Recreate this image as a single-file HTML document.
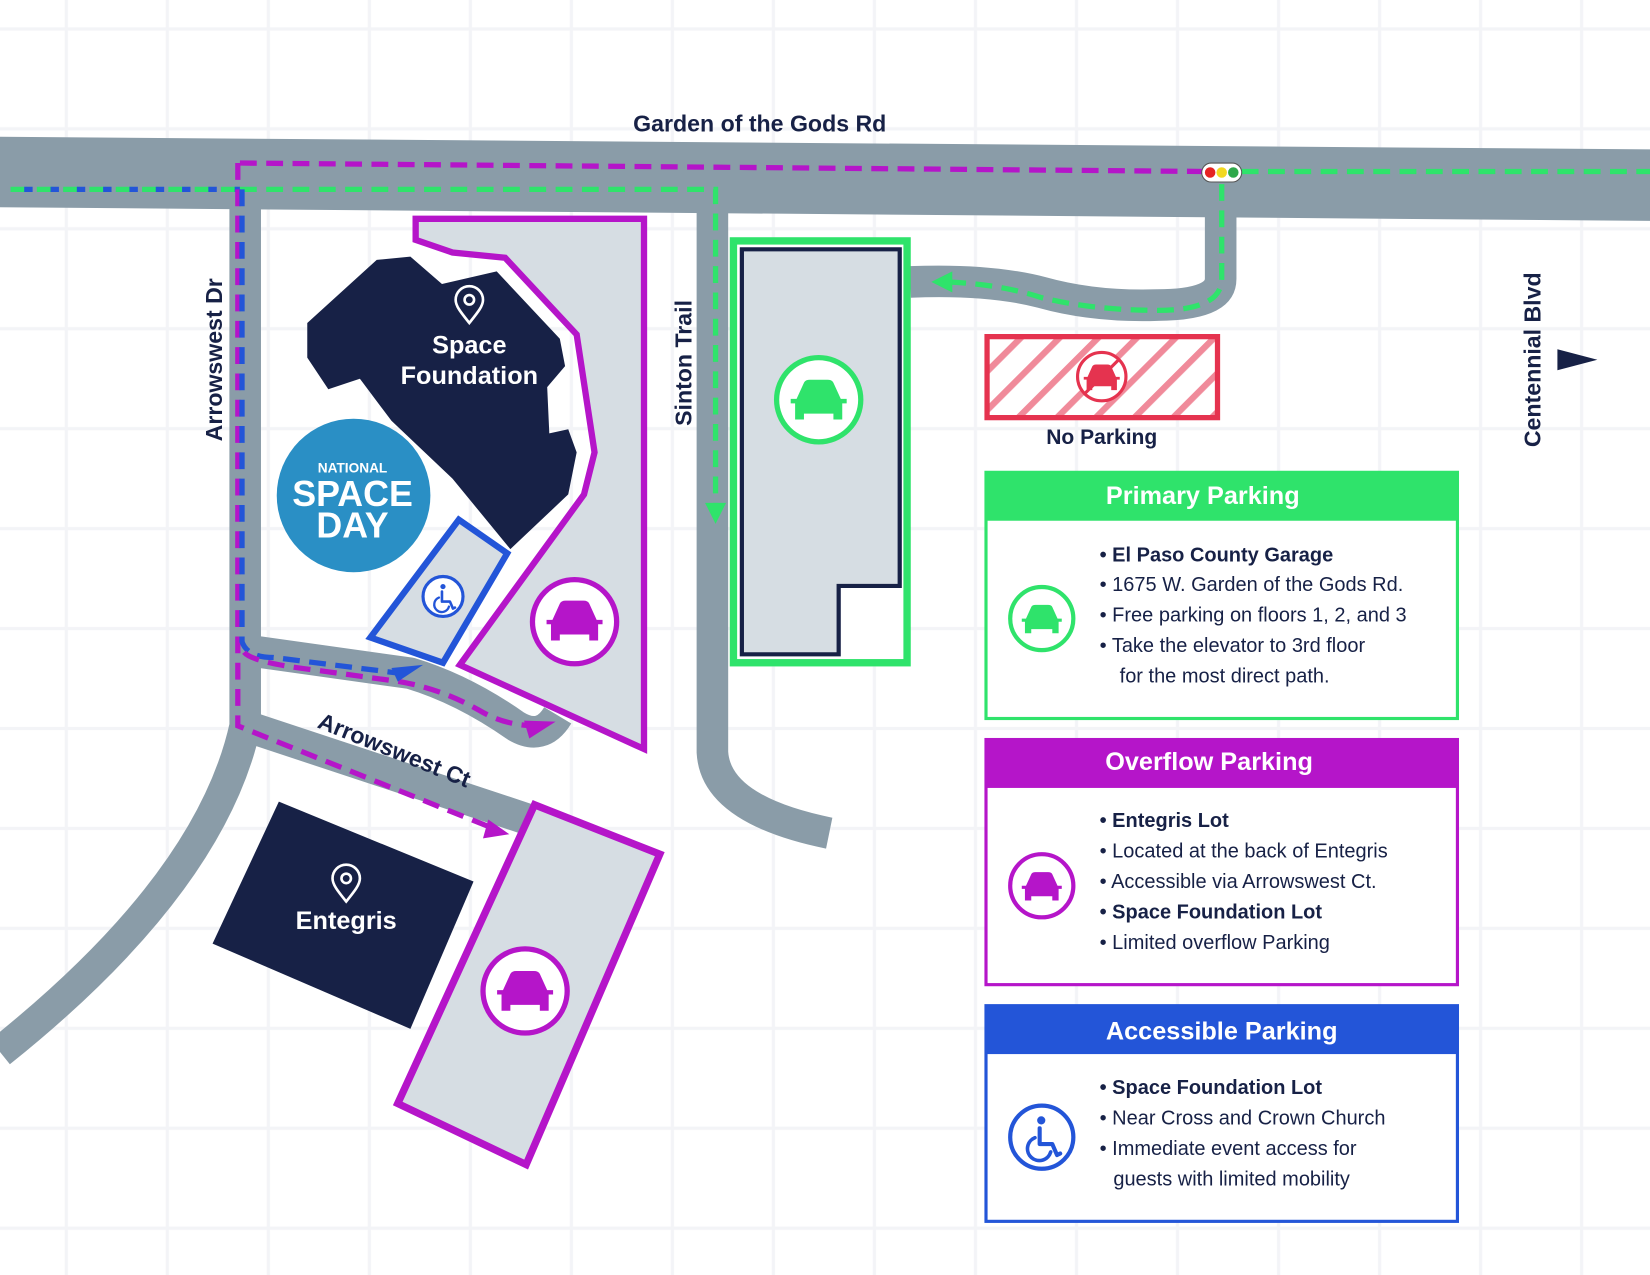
<!DOCTYPE html>
<html><head><meta charset="utf-8"><style>
html,body{margin:0;padding:0;background:#fff;}
svg{display:block;}
text{font-family:"Liberation Sans",sans-serif;}
</style></head><body>
<svg width="1650" height="1275" viewBox="0 0 1568 1212" preserveAspectRatio="none" xmlns="http://www.w3.org/2000/svg">
<defs>
<pattern id="grid" x="15" y="-20" width="96" height="95" patternUnits="userSpaceOnUse">
<path d="M48 0V95M0 47.5H96" stroke="#f3f4f7" stroke-width="3" fill="none"/>
</pattern>
<pattern id="hatch" width="26" height="26" patternUnits="userSpaceOnUse" patternTransform="rotate(-45)">
<rect width="26" height="26" fill="#fff"/><rect width="26" height="6" fill="#f08a9a"/>
</pattern>
<g id="car">
<path d="M-15 -2 L-10 -13 Q-9 -15 -6 -15 H6 Q9 -15 10 -13 L15 -2 H19 V1 H16 V12 H10 V8 H-10 V12 H-16 V1 H-19 V-2 Z"/>
</g>
<g id="wc" fill="none" stroke-linecap="round" stroke-linejoin="round">
<circle cx="1" cy="-12" r="2.6" stroke="none" fill="currentColor"/>
<path d="M0 -7 V3 H8 L11 10 L13 9" stroke-width="2.6"/>
<path d="M-3 -1 A7.5 7.5 0 1 0 7 8" stroke-width="2.3"/>
</g>
</defs>
<rect width="1568" height="1212" fill="#fff"/>
<rect width="1568" height="1212" fill="url(#grid)"/>

<!-- roads -->
<polygon points="0,130 1568,142 1568,210 0,197" fill="#8a9ca8"/>
<g fill="none" stroke="#8a9ca8" stroke-width="30" stroke-linejoin="round">
<path d="M233 195 V690 Q200 840 0 1000"/>
<path d="M233 690 L505 780"/>
<path d="M233 618 L390 640 Q440 655 490 690 Q515 705 530 680"/>
<path d="M677 200 V715 Q680 770 788 792"/>
<path d="M1160 200 V265 Q1160 290 1100 290 Q1040 292 990 278 Q940 265 865 268"/>
</g>

<!-- space foundation lot -->
<polygon points="395,208 612,208 612,712 437,632 555,470 565,430 548,318 480,245 430,240 395,228" fill="#d6dde3" stroke="#b515c9" stroke-width="6"/>
<polygon points="292,307 358,247 390,244 420,270 472,258 532,322 537,348 520,368 522,412 540,408 548,430 540,470 485,522 430,455 372,400 342,360 312,370 292,340" fill="#172146"/>
<polygon points="352,606 436,494 482,526 421,630" fill="#d6dde3" stroke="#2355d8" stroke-width="6"/>
<circle cx="336" cy="471" r="73" fill="#2a8fc5"/>
<text x="335" y="449" font-size="13" font-weight="bold" fill="#fff" text-anchor="middle">NATIONAL</text>
<text x="335" y="481" font-size="34" font-weight="bold" fill="#fff" text-anchor="middle">SPACE</text>
<text x="335" y="511" font-size="34" font-weight="bold" fill="#fff" text-anchor="middle">DAY</text>
<path d="M446 307 C438 297 433 291 433 285 A13 13 0 0 1 459 285 C459 291 454 297 446 307Z" fill="none" stroke="#fff" stroke-width="2.5"/>
<circle cx="446" cy="285" r="4.5" fill="none" stroke="#fff" stroke-width="2.5"/>
<text x="446" y="336" font-size="24" font-weight="bold" fill="#fff" text-anchor="middle">Space</text>
<text x="446" y="365" font-size="24" font-weight="bold" fill="#fff" text-anchor="middle">Foundation</text>
<circle cx="421" cy="567" r="19" fill="#fff" stroke="#2355d8" stroke-width="3"/>
<use href="#wc" color="#2355d8" stroke="#2355d8" transform="translate(420 569) scale(0.95)"/>
<circle cx="546" cy="591" r="40" fill="#fff" stroke="#b515c9" stroke-width="5"/>
<use href="#car" fill="#b515c9" transform="translate(546 592) scale(1.4)"/>

<!-- garage -->
<rect x="697" y="229" width="165" height="401" fill="#fff" stroke="#2fe36b" stroke-width="7"/>
<polygon points="705,237 855,237 855,557 797,557 797,622 705,622" fill="#d6dde3" stroke="#172146" stroke-width="4"/>
<circle cx="778" cy="380" r="40" fill="#fff" stroke="#2fe36b" stroke-width="5"/>
<use href="#car" fill="#2fe36b" transform="translate(778 382) scale(1.4)"/>

<!-- entegris -->
<polygon points="265,762 450,838 390,978 202,897" fill="#172146"/>
<path d="M329 857 C321 847 316 841 316 835 A13 13 0 0 1 342 835 C342 841 337 847 329 857Z" fill="none" stroke="#fff" stroke-width="2.5"/>
<circle cx="329" cy="835" r="4.5" fill="none" stroke="#fff" stroke-width="2.5"/>
<text x="329" y="883" font-size="24" font-weight="bold" fill="#fff" text-anchor="middle">Entegris</text>
<polygon points="508,765 627,812 500,1107 378,1049" fill="#d6dde3" stroke="#b515c9" stroke-width="7"/>
<circle cx="499" cy="942" r="40" fill="#fff" stroke="#b515c9" stroke-width="5"/>
<use href="#car" fill="#b515c9" transform="translate(499 944) scale(1.4)"/>

<!-- no parking -->
<rect x="938" y="320" width="219" height="77" fill="url(#hatch)" stroke="#e5334f" stroke-width="5"/>
<circle cx="1047" cy="358" r="23" fill="#fff" stroke="#e5334f" stroke-width="3"/>
<use href="#car" fill="#e5334f" transform="translate(1047 360) scale(0.9)"/>
<line x1="1030" y1="375" x2="1064" y2="341" stroke="#e5334f" stroke-width="3"/>
<text x="1047" y="422" font-size="20" font-weight="bold" fill="#172146" text-anchor="middle">No Parking</text>

<!-- dashed routes -->
<g fill="none" stroke-width="5" stroke-dasharray="16 9">
<path d="M10 180 H228" stroke="#2fe36b"/>
<path d="M10 180 H228" stroke="#2355d8" stroke-dashoffset="12" stroke-dasharray="8 17"/>
<path d="M228 180 H680 V490" stroke="#2fe36b"/>
<path d="M228 155 L1145 163" stroke="#b515c9"/>
<path d="M1180 163 H1568" stroke="#2fe36b"/>
<path d="M1161 175 V265 Q1161 295 1100 295 Q1040 295 990 283 Q950 270 900 268" stroke="#2fe36b"/>
<path d="M226 155 V690 L470 788" stroke="#b515c9"/>
<path d="M230 180 V610 Q235 625 260 625 L380 640" stroke="#2355d8"/>
<path d="M232 620 Q240 630 300 637 L380 648 Q420 655 455 675 Q480 690 510 690" stroke="#b515c9"/>
</g>
<polygon points="680,498 670,478 690,478" fill="#2fe36b"/>
<polygon points="885,268 905,258 905,278" fill="#2fe36b"/>
<polygon points="402,632 378,648 372,635" fill="#2355d8"/>
<polygon points="528,686 503,702 498,685" fill="#b515c9"/>
<polygon points="484,793 459,797 464,779" fill="#b515c9"/>

<!-- traffic light -->
<rect x="1142" y="155" width="38" height="18" rx="9" fill="#fff" stroke="#555" stroke-width="1"/>
<circle cx="1150" cy="164" r="5" fill="#e52323"/>
<circle cx="1161" cy="164" r="5" fill="#f2d820"/>
<circle cx="1172" cy="164" r="5" fill="#2ea84a"/>

<!-- road labels -->
<text x="722" y="125" font-size="22" font-weight="bold" fill="#172146" text-anchor="middle">Garden of the Gods Rd</text>
<text transform="translate(211 342) rotate(-90)" font-size="22" font-weight="bold" fill="#172146" text-anchor="middle">Arrowswest Dr</text>
<text transform="translate(657 345) rotate(-90)" font-size="22" font-weight="bold" fill="#172146" text-anchor="middle">Sinton Trail</text>
<text transform="translate(1464 342) rotate(-90)" font-size="22" font-weight="bold" fill="#172146" text-anchor="middle">Centennial Blvd</text>
<text transform="translate(372 720) rotate(22)" font-size="22" font-weight="bold" fill="#172146" text-anchor="middle">Arrowswest Ct</text>
<polygon points="1480,332 1518,342 1480,352" fill="#172146"/>

<!-- legends -->
<g font-size="19" fill="#172146">
<rect x="937" y="449" width="448" height="234" fill="#fff" stroke="#2fe36b" stroke-width="3"/>
<rect x="937" y="449" width="448" height="46" fill="#2fe36b"/>
<text x="1143" y="479" font-size="24" font-weight="bold" fill="#fff" text-anchor="middle">Primary Parking</text>
<circle cx="990" cy="588" r="30" fill="#fff" stroke="#2fe36b" stroke-width="4"/>
<use href="#car" fill="#2fe36b" transform="translate(990 590)"/>
<text x="1045" y="534" font-weight="bold">• El Paso County Garage</text>
<text x="1045" y="562">• 1675 W. Garden of the Gods Rd.</text>
<text x="1045" y="591">• Free parking on floors 1, 2, and 3</text>
<text x="1045" y="620">• Take the elevator to 3rd floor</text>
<text x="1064" y="649">for the most direct path.</text>

<rect x="937" y="703" width="448" height="233" fill="#fff" stroke="#b515c9" stroke-width="3"/>
<rect x="937" y="703" width="448" height="46" fill="#b515c9"/>
<text x="1149" y="732" font-size="24" font-weight="bold" fill="#fff" text-anchor="middle">Overflow Parking</text>
<circle cx="990" cy="842" r="30" fill="#fff" stroke="#b515c9" stroke-width="4"/>
<use href="#car" fill="#b515c9" transform="translate(990 844)"/>
<text x="1045" y="786" font-weight="bold">• Entegris Lot</text>
<text x="1045" y="815">• Located at the back of Entegris</text>
<text x="1045" y="844">• Accessible via Arrowswest Ct.</text>
<text x="1045" y="873" font-weight="bold">• Space Foundation Lot</text>
<text x="1045" y="902">• Limited overflow Parking</text>

<rect x="937" y="956" width="448" height="205" fill="#fff" stroke="#2355d8" stroke-width="3"/>
<rect x="937" y="956" width="448" height="46" fill="#2355d8"/>
<text x="1161" y="988" font-size="24" font-weight="bold" fill="#fff" text-anchor="middle">Accessible Parking</text>
<circle cx="990" cy="1081" r="30" fill="#fff" stroke="#2355d8" stroke-width="4"/>
<use href="#wc" color="#2355d8" stroke="#2355d8" transform="translate(988 1083) scale(1.5)"/>
<text x="1045" y="1040" font-weight="bold">• Space Foundation Lot</text>
<text x="1045" y="1069">• Near Cross and Crown Church</text>
<text x="1045" y="1098">• Immediate event access for</text>
<text x="1058" y="1127">guests with limited mobility</text>
</g>
</svg>
</body></html>
